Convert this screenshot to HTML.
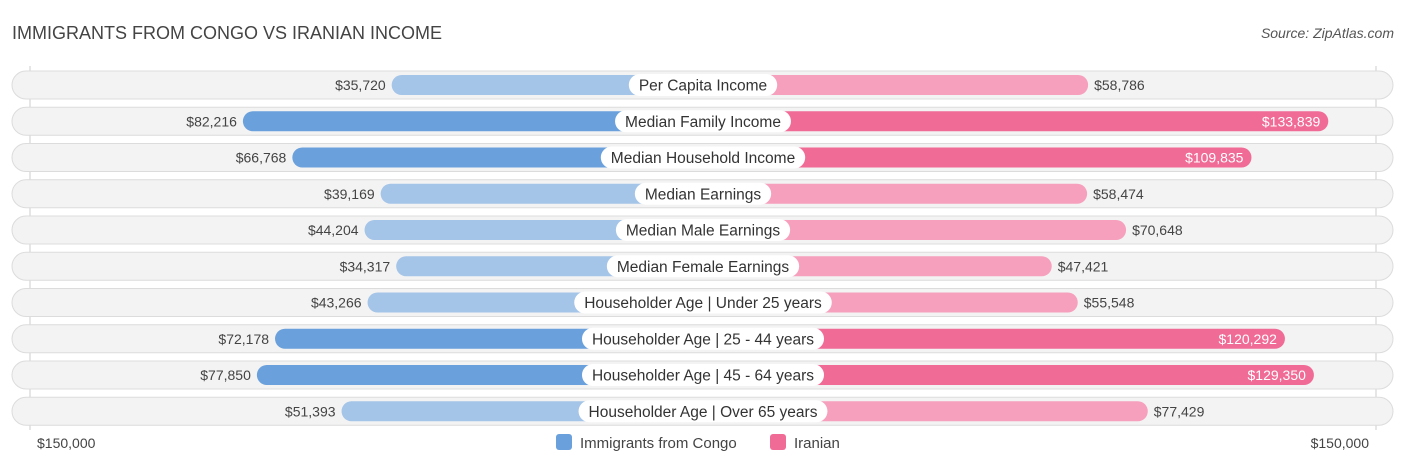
<!DOCTYPE html>
<html><head><meta charset="utf-8"><style>
body{margin:0;background:#fff;font-family:"Liberation Sans",sans-serif;}
#c{position:relative;width:1406px;height:467px;overflow:hidden;}
</style></head><body>
<div id="c">
<svg id="s" width="1406" height="467" xmlns="http://www.w3.org/2000/svg">
<text x="12" y="39" font-size="18" fill="#444">IMMIGRANTS FROM CONGO VS IRANIAN INCOME</text>
<text x="1394" y="38" font-size="14" fill="#555" font-style="italic" text-anchor="end">Source: ZipAtlas.com</text>
<line x1="30" y1="66" x2="30" y2="430" stroke="#ccc"/>
<line x1="1376" y1="66" x2="1376" y2="430" stroke="#ccc"/>
<g id="rows"></g>
<text x="37" y="448" font-size="14" fill="#444">$150,000</text>
<text x="1369" y="448" font-size="14" fill="#444" text-anchor="end">$150,000</text>
<rect x="556" y="434" width="16" height="16" rx="3" fill="#6aa0dc"/>
<text x="580" y="448" font-size="15" fill="#444">Immigrants from Congo</text>
<rect x="770" y="434" width="16" height="16" rx="3" fill="#f06b96"/>
<text x="794" y="448" font-size="15" fill="#444">Iranian</text>
</svg>
</div>
<script>
const categories=["Per Capita Income","Median Family Income","Median Household Income","Median Earnings","Median Male Earnings","Median Female Earnings","Householder Age | Under 25 years","Householder Age | 25 - 44 years","Householder Age | 45 - 64 years","Householder Age | Over 65 years"];
const congo=[35720,82216,66768,39169,44204,34317,43266,72178,77850,51393];
const iranian=[58786,133839,109835,58474,70648,47421,55548,120292,129350,77429];
const NS="http://www.w3.org/2000/svg";
const cx=703, off=197, k=0.0032;
function len(v){return off+v*k;}
function fmt(v){return "$"+v.toLocaleString("en-US");}
const g=document.getElementById("rows");
function mk(t,a){const e=document.createElementNS(NS,t);for(const n in a)e.setAttribute(n,a[n]);return e;}
categories.forEach((c,i)=>{
  const y=85+i*36.25;
  const bg=mk("rect",{x:12,y:y-14,width:1381,height:28,rx:14,fill:"#f3f3f3",stroke:"#dcdcdc"});
  
  
  g.appendChild(bg);
  const lv=congo[i], rv=iranian[i];
  const lDark=lv>60000, rDark=rv>100000;
  const lw=len(lv), rw=len(rv);
  const lb=mk("rect",{x:cx-lw,y:y-10,width:lw,height:20,rx:10,fill:lDark?"#6aa0dc":"#a4c4e8"});
  
  
  g.appendChild(lb);
  const rb=mk("rect",{x:cx,y:y-10,width:rw,height:20,rx:10,fill:rDark?"#f06b96":"#f6a0bd"});
  
  
  g.appendChild(rb);
  const lt=mk("text",{x:cx-lw-6,y:y+5,"font-size":14,fill:"#444","text-anchor":"end"});
  lt.textContent=fmt(lv);
  
  
  g.appendChild(lt);
  const rt=mk("text",{x:rDark?cx+rw-8:cx+rw+6,y:y+5,"font-size":14,fill:rDark?"#fff":"#444","text-anchor":rDark?"end":"start"});
  rt.textContent=fmt(rv);
  
  
  g.appendChild(rt);
  const lab=mk("text",{x:cx,y:y+5.5,"font-size":15.5,fill:"#333","text-anchor":"middle"});
  lab.textContent=c;
  g.appendChild(lab);
  const w=lab.getComputedTextLength()+20;
  const pill=mk("rect",{x:cx-w/2,y:y-11,width:w,height:22,rx:11,fill:"#fff"});
  
  
  g.insertBefore(pill,lab);
  
  
});
</script>
</body></html>
